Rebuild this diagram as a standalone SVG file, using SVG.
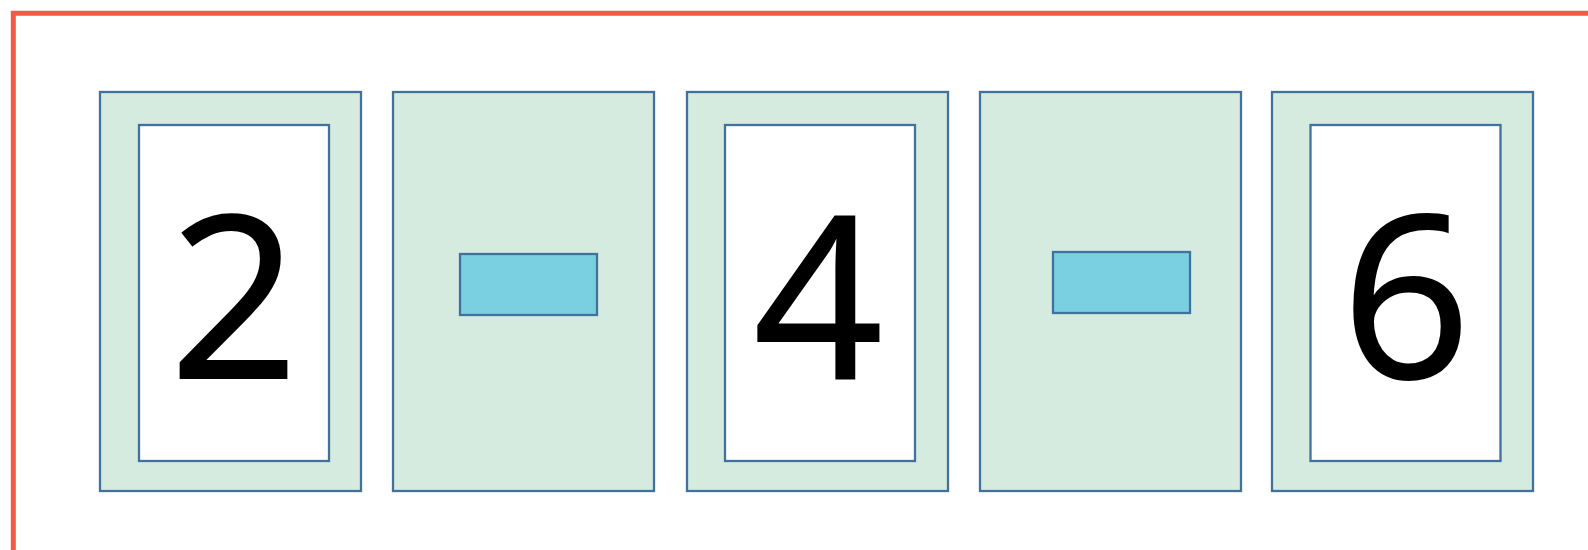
<svg xmlns="http://www.w3.org/2000/svg" width="1588" height="550" viewBox="0 0 1588 550">
<style>
.outer{fill:#D6EBE0;stroke:#41719C;stroke-width:2.3}
.inner{fill:#FFFFFF;stroke:#41719C;stroke-width:2.3}
.minus{fill:#7AD0E0;stroke:#41719C;stroke-width:2.3}
.num{font-family:"Open Sans","Noto Sans",sans-serif;font-size:226px;fill:#000;stroke:#000;stroke-width:2;text-anchor:middle}
</style>
<rect width="1588" height="550" fill="#FFFFFF"/>
<path d="M13.3,550 V13.3 H1588" fill="none" stroke="#F25A46" stroke-width="5"/>
<g id="card-2">
<rect class="outer" x="100" y="92" width="261" height="399"/>
<rect class="inner" x="139" y="125" width="190" height="336"/>
<text class="num" x="234" y="378">2</text>
</g>
<g id="card-minus-1">
<rect class="outer" x="393" y="92" width="261" height="399"/>
<rect class="minus" x="460" y="254" width="137" height="61"/>
</g>
<g id="card-4">
<rect class="outer" x="687" y="92" width="261" height="399"/>
<rect class="inner" x="725" y="125" width="190" height="336"/>
<text class="num" x="818" y="378">4</text>
</g>
<g id="card-minus-2">
<rect class="outer" x="980" y="92" width="261" height="399"/>
<rect class="minus" x="1053" y="252" width="137" height="61"/>
</g>
<g id="card-6">
<rect class="outer" x="1272" y="92" width="261" height="399"/>
<rect class="inner" x="1310.5" y="125" width="190" height="336"/>
<text class="num" x="1406" y="378">6</text>
</g>
<g id="connectors"></g>
</svg>
